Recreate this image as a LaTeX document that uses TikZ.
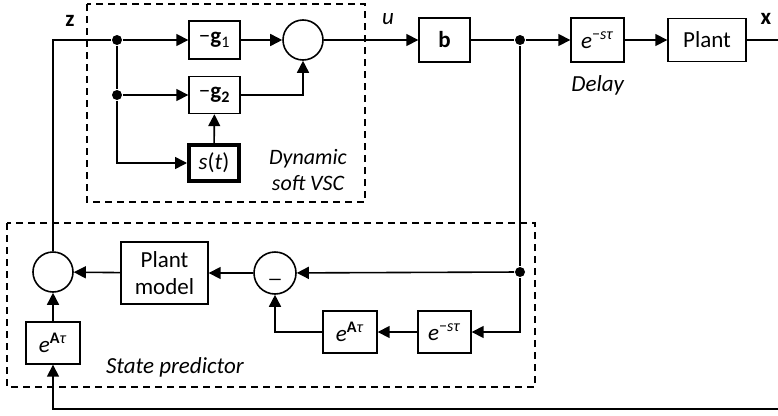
\documentclass[tikz,border=0pt]{standalone}
\usepackage{fontspec}
\setmainfont{Carlito}
\usetikzlibrary{arrows.meta}
\begin{document}
\begin{tikzpicture}[x=1pt,y=-1pt,
  font=\fontsize{23}{27}\selectfont,
  line width=1.6pt,
  arr/.style={-{Triangle[length=12pt,width=12pt]}},
  blk/.style={draw,rectangle,inner sep=0pt,line width=1.4pt},
  sumc/.style={draw,circle,minimum size=40pt,inner sep=0pt,line width=1.6pt},
  dotn/.style={circle,fill,inner sep=0pt,minimum size=10pt},
  grp/.style={draw,dashed,dash pattern=on 7pt off 5pt,line width=1.4pt},
  lbl/.style={inner sep=0pt}]
\useasboundingbox (0,0) rectangle (778,415);
% group frames
\draw[grp] (87,4) rectangle (365,202);
\draw[grp] (7,223) rectangle (535,387);
% nodes
\node[lbl] (zl) at (70,21) {\textbf{z}};
\node[lbl] (ul) at (388,19) {\textit{u}};
\node[lbl] (xl) at (766,19) {\textbf{x}};
\node[dotn] (d1) at (117,40) {};
\node[dotn] (d2) at (117,95) {};
\node[blk,minimum width=51pt,minimum height=38pt] (g1) at (214.5,40) {−\textbf{g}\textsubscript{1}};
\node[blk,minimum width=51pt,minimum height=37pt] (g2) at (214.5,95) {−\textbf{g\textsubscript{2}}};
\node[blk,line width=4pt,minimum width=50pt,minimum height=36pt] (st) at (214,163) {\textit{s}(\textit{t})};
\node[sumc] (s1) at (303,40) {};
\node[lbl,align=center,font=\fontsize{22}{26}\selectfont\itshape] (dyn) at (308,170) {Dynamic\\soft VSC};
\node[blk,minimum width=51pt,minimum height=44pt] (b) at (444.5,40) {\textbf{b}};
\node[dotn] (d3) at (520,40) {};
\node[blk,minimum width=53pt,minimum height=44pt] (dl) at (597.5,40) {\textit{e}\textsuperscript{−\textit{sτ}}};
\node[lbl] (dlab) at (598,85) {\textit{Delay}};
\node[blk,minimum width=78pt,minimum height=43pt] (pl) at (707,40) {Plant};
\coordinate (xend) at (778,40);
\node[sumc] (s2) at (53,272) {};
\node[blk,align=center,minimum width=87pt,minimum height=62pt,font=\fontsize{23}{27}\selectfont] (pm) at (164.5,273) {Plant\\model};
\node[sumc,minimum size=42pt] (mn) at (275,273) {};
\node[lbl] (mnl) at (275,279) {\_};
\node[dotn] (d4) at (520,272) {};
\node[blk,minimum width=53pt,minimum height=42pt] (dl2) at (444.5,332) {\textit{e}\textsuperscript{−\textit{sτ}}};
\node[blk,minimum width=54pt,minimum height=42pt] (ea1) at (350,332) {\textit{e}\textsuperscript{\textbf{A}\textit{τ}}};
\node[blk,minimum width=54pt,minimum height=42pt] (ea2) at (53,343) {\textit{e}\textsuperscript{\textbf{A}\textit{τ}}};
\node[lbl] (spl) at (175,367) {\textit{State predictor}};
\coordinate (bend) at (778,409);
% connectors
\draw (s2) |- (d1);
\draw[arr] (d1) -- (g1);
\draw (d1) -- (d2);
\draw[arr] (d2) -- (g2);
\draw[arr] (d2) |- (st);
\draw[arr] (st) -- (g2);
\draw[arr] (g1) -- (s1);
\draw[arr] (g2) -| (s1);
\draw[arr] (s1) -- (b);
\draw (b) -- (d3);
\draw[arr] (d3) -- (dl);
\draw[arr] (dl) -- (pl);
\draw (pl) -- (xend);
\draw (d3) -- (d4);
\draw[arr] (d4) -- (mn);
\draw[arr] (d4) |- (dl2);
\draw[arr] (dl2) -- (ea1);
\draw[arr] (ea1) -| (mn);
\draw[arr] (mn) -- (pm);
\draw[arr] (pm) -- (s2);
\draw[arr] (ea2) -- (s2);
\draw[arr] (bend) -| (ea2);
\end{tikzpicture}
\end{document}
